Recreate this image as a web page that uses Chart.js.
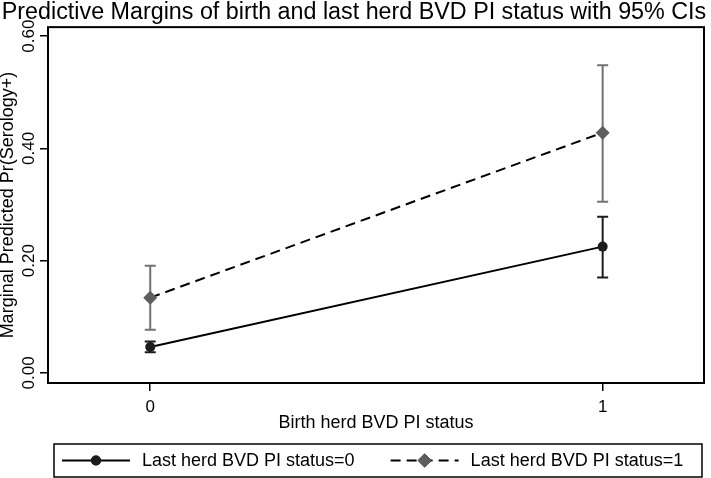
<!DOCTYPE html>
<html>
<head>
<meta charset="utf-8">
<script src="https://cdn.jsdelivr.net/npm/chart.js@4.4.1/dist/chart.umd.min.js"></script>
<style>
  html, body { margin: 0; padding: 0; background: #fff; }
  #wrap { width: 711px; height: 478px; }
</style>
</head>
<body>
<div id="wrap"><canvas id="margins-chart"></canvas></div>
<script>
const birthStatus = [0, 1];
const last0Margin = [0.046, 0.225];
const last0Lower = [0.037, 0.170];
const last0Upper = [0.056, 0.278];
const last1Margin = [0.134, 0.428];
const last1Lower = [0.077, 0.305];
const last1Upper = [0.191, 0.548];
const xTicks = [0, 1];
const xTickLabels = ["0", "1"];
const yTicks = [0, 0.2, 0.4, 0.6];
const yTickLabels = ["0.00", "0.20", "0.40", "0.60"];
const seriesLabels = ["Last herd BVD PI status=0", "Last herd BVD PI status=1"];

const FONT = '"Liberation Sans", Arial, Helvetica, sans-serif';

function points(values) {
  return birthStatus.map((x, i) => ({ x: x, y: values[i] }));
}

// CI whiskers drawn under the lines and markers
const ciBars = {
  id: "ciBars",
  beforeDatasetsDraw(chart) {
    const ctx = chart.ctx;
    const xs = chart.scales.x;
    const ys = chart.scales.y;
    chart.data.datasets.forEach((ds) => {
      ctx.save();
      ctx.strokeStyle = ds.ciColor;
      ctx.lineWidth = 2;
      birthStatus.forEach((b, i) => {
        const px = xs.getPixelForValue(b);
        const lo = ys.getPixelForValue(ds.ciLower[i]);
        const hi = ys.getPixelForValue(ds.ciUpper[i]);
        ctx.beginPath();
        ctx.moveTo(px, lo);
        ctx.lineTo(px, hi);
        ctx.moveTo(px - 5.5, lo);
        ctx.lineTo(px + 5.5, lo);
        ctx.moveTo(px - 5.5, hi);
        ctx.lineTo(px + 5.5, hi);
        ctx.stroke();
      });
      ctx.restore();
    });
  },
};

// Stata style frame, vertical y labels and boxed legend
const stataFrame = {
  id: "stataFrame",
  afterDraw(chart) {
    const ctx = chart.ctx;
    const a = chart.chartArea;
    const ys = chart.scales.y;

    ctx.save();
    ctx.strokeStyle = "#000";
    ctx.lineWidth = 2;
    ctx.strokeRect(a.left, a.top, a.right - a.left, a.bottom - a.top);

    // y tick labels, reading bottom to top
    ctx.fillStyle = "#000";
    ctx.font = "17px " + FONT;
    ctx.textAlign = "center";
    ctx.textBaseline = "alphabetic";
    yTicks.forEach((v, i) => {
      ctx.save();
      ctx.translate(34, ys.getPixelForValue(v));
      ctx.rotate(-Math.PI / 2);
      ctx.fillText(yTickLabels[i], 0, 0);
      ctx.restore();
    });

    // legend box
    const box = { left: 54, top: 444, right: 702, bottom: 477 };
    ctx.lineWidth = 1.5;
    ctx.strokeRect(box.left, box.top, box.right - box.left, box.bottom - box.top);
    const midY = (box.top + box.bottom) / 2;
    ctx.font = "18px " + FONT;
    ctx.textAlign = "left";
    ctx.textBaseline = "middle";
    let x = box.left + 8;
    chart.data.datasets.forEach((ds) => {
      ctx.save();
      ctx.strokeStyle = ds.borderColor;
      ctx.lineWidth = 2;
      ctx.setLineDash(ds.borderDash || []);
      ctx.beginPath();
      ctx.moveTo(x, midY);
      ctx.lineTo(x + 68, midY);
      ctx.stroke();
      ctx.restore();
      Chart.helpers.drawPoint(ctx, {
        pointStyle: ds.pointStyle,
        radius: ds.pointRadius,
        borderWidth: 0,
      }, x + 34, midY);
      ctx.fillStyle = ds.pointBackgroundColor;
      ctx.fill();
      ctx.fillStyle = "#000";
      ctx.fillText(ds.label, x + 80, midY + 1);
      x += 80 + ctx.measureText(ds.label).width + 36;
    });
    ctx.restore();
  },
};

const ctx = document.getElementById("margins-chart").getContext("2d");

new Chart(ctx, {
  type: "line",
  data: {
    datasets: [
      {
        label: seriesLabels[0],
        data: points(last0Margin),
        ciLower: last0Lower,
        ciUpper: last0Upper,
        ciColor: "#1c1c1c",
        borderColor: "#000",
        borderWidth: 2,
        pointStyle: "circle",
        pointRadius: 5,
        pointBackgroundColor: "#1c1c1c",
        pointBorderWidth: 0,
        fill: false,
      },
      {
        label: seriesLabels[1],
        data: points(last1Margin),
        ciLower: last1Lower,
        ciUpper: last1Upper,
        ciColor: "#727272",
        borderColor: "#000",
        borderWidth: 2,
        borderDash: [10, 6],
        pointStyle: "rectRot",
        pointRadius: 7,
        pointBackgroundColor: "#5e5e5e",
        pointBorderWidth: 0,
        fill: false,
      },
    ],
  },
  options: {
    responsive: true,
    maintainAspectRatio: false,
    animation: false,
    layout: { padding: { left: 0, right: 3, top: 0, bottom: 38 } },
    scales: {
      x: {
        type: "linear",
        min: -0.226,
        max: 1.224,
        afterBuildTicks: (s) => { s.ticks = xTicks.map((v) => ({ value: v })); },
        afterFit: (s) => { s.height = 57; },
        border: { display: false },
        grid: { drawOnChartArea: false, drawTicks: true, tickLength: 8, color: "#000", lineWidth: 1.5 },
        ticks: {
          padding: 6,
          color: "#000",
          font: { family: FONT, size: 17 },
          callback: (v) => xTickLabels[xTicks.indexOf(v)],
        },
        title: {
          display: true,
          text: "Birth herd BVD PI status",
          color: "#000",
          font: { family: FONT, size: 18 },
          padding: { top: 0, bottom: 6 },
        },
      },
      y: {
        type: "linear",
        min: -0.018,
        max: 0.616,
        afterBuildTicks: (s) => { s.ticks = yTicks.map((v) => ({ value: v })); },
        afterFit: (s) => { s.width = 48; },
        border: { display: false },
        grid: { drawOnChartArea: false, drawTicks: true, tickLength: 8, color: "#000", lineWidth: 1.5 },
        ticks: { display: false },
        title: {
          display: true,
          text: "Marginal Predicted Pr(Serology+)",
          color: "#000",
          font: { family: FONT, size: 18, lineHeight: 1 },
          padding: { top: -1, bottom: 0 },
        },
      },
    },
    plugins: {
      legend: { display: false },
      tooltip: { enabled: false },
      title: {
        display: true,
        text: "Predictive Margins of birth and last herd BVD PI status with 95% CIs",
        color: "#000",
        font: { family: FONT, size: 23.3, weight: "normal", lineHeight: 1.1 },
        padding: { top: 0, bottom: 1.5 },
      },
    },
  },
  plugins: [ciBars, stataFrame],
});
</script>
</body>
</html>
